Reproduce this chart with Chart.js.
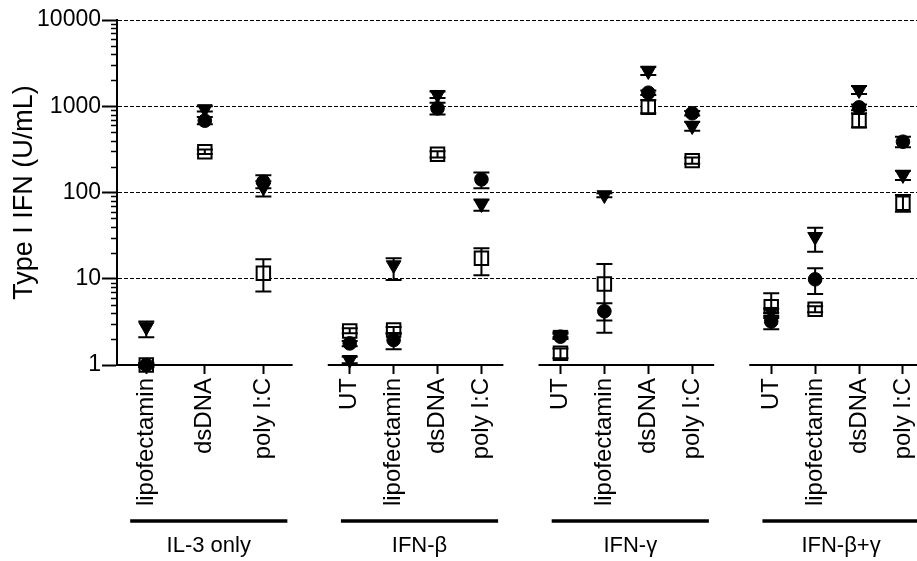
<!DOCTYPE html>
<html>
<head>
<meta charset="utf-8">
<title>Type I IFN</title>
<script src="https://cdn.jsdelivr.net/npm/chart.js@4.4.1/dist/chart.umd.min.js"></script>
<style>
    html, body { margin: 0; padding: 0; background: #fff; }
</style>
</head>
<body>
<canvas id="ifnChart" width="917" height="561"></canvas>
<script>
// Gruplar ve kategoriler
const GROUP_NAMES = ['IL-3 only', 'IFN-β', 'IFN-γ', 'IFN-β+γ'];
const GROUP_CATEGORIES = [
    ['lipofectamin', 'dsDNA', 'poly I:C'],
    ['UT', 'lipofectamin', 'dsDNA', 'poly I:C'],
    ['UT', 'lipofectamin', 'dsDNA', 'poly I:C'],
    ['UT', 'lipofectamin', 'dsDNA', 'poly I:C']
];
const Y_TICKS = [1, 10, 100, 1000, 10000];

// Seriler (kategori sırasıyla, 15 nokta)
const CIRCLE_MEAN = [1.0, 680, 133,   1.78, 1.95, 946, 142,   2.13, 4.2, 1436, 829,   3.2, 9.85, 972, 388];
const CIRCLE_LOW  = [0.95, 620, 112,  1.65, 1.52, 800, 112,   2.0, 3.27, 1350, 780,   2.6, 6.65, 900, 334];
const CIRCLE_HIGH = [1.05, 750, 159,  1.9, 2.3, 1100, 171,    2.3, 5.2, 1520, 880,    3.5, 13.2, 1050, 443];

const TRIANGLE_MEAN = [2.76, 930, 115,  1.15, 14.4, 1360, 73.6,  2.25, 93.5, 2560, 590,  4.15, 30.7, 1543, 160];
const TRIANGLE_LOW  = [2.1, 870, 90,    1.05, 9.7, 1250, 61.5,   2.1, 88, 2300, 521,     3.7, 20.6, 1390, 140];
const TRIANGLE_HIGH = [3.2, 1000, 135,  1.25, 17.3, 1480, 83,    2.4, 98, 2870, 663,     4.5, 39, 1720, 179];

const SQUARE_MEAN = [1.0, 297, 11.6,   2.48, 2.55, 277, 17.3,   1.37, 8.7, 972, 234,    4.74, 4.42, 680, 75];
const SQUARE_LOW  = [0.95, 280, 7.1,   2.33, 2.35, 255, 11,     1.2, 2.37, 830, 215,    4.0, 4.1, 570, 60];
const SQUARE_HIGH = [1.05, 315, 16.8,  2.66, 2.75, 300, 22.5,   1.55, 14.8, 1180, 255,  6.78, 4.8, 830, 93.5];

// Eksen yerleşimi (x birim: 4'lü grupta bir kategori)
const GROUP_SPAN = 4;
const GROUP_GAP = 0.8;
const X_MAX = 18.22;
const FONT_FAMILY = "'Liberation Sans', Arial, Helvetica, sans-serif";

function groupStart(g) {
    return g * (GROUP_SPAN + GROUP_GAP);
}

const TICK_VALUES = [];
const TICK_LABELS = [];
GROUP_CATEGORIES.forEach((cats, g) => {
    const bin = GROUP_SPAN / cats.length;
    cats.forEach((label, i) => {
        TICK_VALUES.push(groupStart(g) + (i + 0.5) * bin);
        TICK_LABELS.push(label);
    });
});

function buildSeries(mean, low, high) {
    return mean.map((v, i) => ({ x: TICK_VALUES[i], y: v, yMin: low[i], yMax: high[i] }));
}

function logTicks() {
    const ticks = [];
    [1, 10, 100, 1000].forEach(d => {
        for (let k = 1; k <= 9; k++) ticks.push({ value: d * k, major: k === 1 });
    });
    ticks.push({ value: 10000, major: true });
    return ticks;
}

/**
 * Hata çubukları
 */
const errorBars = {
    id: 'errorBars',
    afterDatasetsDraw(chart) {
        const { ctx, scales: { y } } = chart;
        ctx.save();
        ctx.strokeStyle = '#000';
        ctx.lineWidth = 2;
        chart.data.datasets.forEach((ds, i) => {
            chart.getDatasetMeta(i).data.forEach((pt, j) => {
                const d = ds.data[j];
                const top = y.getPixelForValue(d.yMax);
                const bot = y.getPixelForValue(d.yMin);
                ctx.beginPath();
                ctx.moveTo(pt.x, top); ctx.lineTo(pt.x, bot);
                ctx.moveTo(pt.x - 8, top); ctx.lineTo(pt.x + 8, top);
                ctx.moveTo(pt.x - 8, bot); ctx.lineTo(pt.x + 8, bot);
                ctx.stroke();
            });
        });
        ctx.restore();
    }
};

/**
 * Kırık x ekseni, küçük y çentikleri, grup çizgileri ve adları
 */
const axisDecor = {
    id: 'axisDecor',
    afterDraw(chart) {
        const { ctx, chartArea, scales: { x, y } } = chart;
        ctx.save();
        ctx.strokeStyle = '#000';
        ctx.fillStyle = '#000';

        // x ekseni parçaları
        ctx.lineWidth = 2;
        GROUP_NAMES.forEach((name, g) => {
            const x0 = x.getPixelForValue(groupStart(g));
            const x1 = x.getPixelForValue(groupStart(g) + GROUP_SPAN);
            ctx.beginPath();
            ctx.moveTo(x0, chartArea.bottom);
            ctx.lineTo(x1, chartArea.bottom);
            ctx.stroke();
        });

        // küçük log çentikleri
        ctx.lineWidth = 1.5;
        [1, 10, 100, 1000].forEach(d => {
            for (let k = 2; k <= 9; k++) {
                const py = Math.round(y.getPixelForValue(d * k)) + 0.5;
                ctx.beginPath();
                ctx.moveTo(chartArea.left - 6, py);
                ctx.lineTo(chartArea.left, py);
                ctx.stroke();
            }
        });

        // grup çizgileri ve adları
        ctx.font = '22px ' + FONT_FAMILY;
        ctx.textAlign = 'center';
        ctx.textBaseline = 'middle';
        GROUP_NAMES.forEach((name, g) => {
            const x0 = x.getPixelForValue(groupStart(g) + 0.3);
            const x1 = x.getPixelForValue(groupStart(g) + GROUP_SPAN - 0.12);
            const lineY = chartArea.bottom + 156;
            ctx.lineWidth = 3.5;
            ctx.beginPath();
            ctx.moveTo(x0, lineY);
            ctx.lineTo(x1, lineY);
            ctx.stroke();
            ctx.fillText(name, (x0 + x1) / 2, chartArea.bottom + 181);
        });
        ctx.restore();
    }
};

Chart.defaults.font.family = FONT_FAMILY;
Chart.defaults.color = '#000';

new Chart(document.getElementById('ifnChart'), {
    type: 'scatter',
    data: {
        datasets: [
            {
                label: 'circle',
                data: buildSeries(CIRCLE_MEAN, CIRCLE_LOW, CIRCLE_HIGH),
                pointStyle: 'circle',
                pointRadius: 6.8,
                borderWidth: 1,
                borderColor: '#000',
                backgroundColor: '#000',
                clip: false
            },
            {
                label: 'triangle',
                data: buildSeries(TRIANGLE_MEAN, TRIANGLE_LOW, TRIANGLE_HIGH),
                pointStyle: 'triangle',
                pointRotation: 180,
                pointRadius: 8.5,
                borderWidth: 1,
                borderColor: '#000',
                backgroundColor: '#000',
                clip: false
            },
            {
                label: 'square',
                data: buildSeries(SQUARE_MEAN, SQUARE_LOW, SQUARE_HIGH),
                pointStyle: 'rect',
                pointRadius: 9.5,
                borderWidth: 2,
                borderColor: '#000',
                backgroundColor: '#fff',
                clip: false
            }
        ]
    },
    options: {
        responsive: false,
        animation: false,
        devicePixelRatio: 1,
        layout: { autoPadding: false, padding: { top: 20, left: 0, right: 0, bottom: 0 } },
        plugins: {
            legend: { display: false },
            tooltip: { enabled: false }
        },
        scales: {
            x: {
                type: 'linear',
                position: 'bottom',
                min: 0,
                max: X_MAX,
                afterBuildTicks: scale => {
                    scale.ticks = TICK_VALUES.map(v => ({ value: v }));
                },
                afterFit: scale => {
                    scale.height = 196;
                    scale.paddingLeft = 0;
                    scale.paddingRight = 0;
                },
                ticks: {
                    autoSkip: false,
                    minRotation: 90,
                    maxRotation: 90,
                    padding: 4,
                    color: '#000',
                    font: { size: 24 },
                    callback: (value, index) => TICK_LABELS[index]
                },
                grid: {
                    drawOnChartArea: false,
                    drawTicks: true,
                    tickLength: 9,
                    tickWidth: 2,
                    tickColor: '#000'
                },
                border: { display: false }
            },
            y: {
                type: 'logarithmic',
                min: 1,
                max: 10000,
                afterBuildTicks: scale => {
                    scale.ticks = logTicks();
                },
                afterFit: scale => {
                    scale.width = 117;
                },
                ticks: {
                    autoSkip: false,
                    padding: 1,
                    color: '#000',
                    font: { size: 23 },
                    callback: value => Y_TICKS.includes(value) ? String(value) : ''
                },
                grid: {
                    lineWidth: 1,
                    tickLength: 15,
                    tickWidth: 2,
                    color: ctx => (ctx.tick && ctx.tick.major && ctx.tick.value > 1) ? '#000' : 'rgba(0,0,0,0)',
                    tickColor: ctx => (ctx.tick && ctx.tick.major) ? '#000' : 'rgba(0,0,0,0)'
                },
                border: { display: true, color: '#000', width: 2, dash: [4, 2] },
                title: {
                    display: true,
                    text: 'Type I IFN (U/mL)',
                    color: '#000',
                    font: { size: 27 },
                    padding: { top: 8, bottom: 0 }
                }
            }
        }
    },
    plugins: [errorBars, axisDecor]
});
</script>
</body>
</html>
